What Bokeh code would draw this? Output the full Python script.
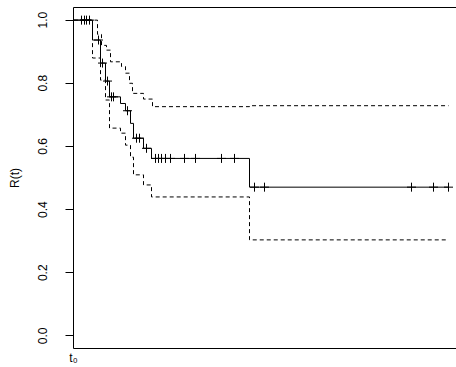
import numpy as np
from bokeh.plotting import figure
from bokeh.models import Range1d, LinearAxis, FixedTicker, PrintfTickFormatter
from bokeh.embed import file_html
from bokeh.resources import INLINE

# Kaplan-Meier estimate (step changes)
km_time = [0, 19, 27, 32, 36, 47, 52, 57, 60, 70, 78, 176, 375]
km_surv = [1.0, 0.937, 0.864, 0.807, 0.757, 0.736, 0.713, 0.673, 0.626, 0.594, 0.562, 0.471, 0.471]

# upper confidence limit
up_time = [0, 24, 28, 33, 37, 48, 52, 56, 59, 70, 79, 176, 375]
up_surv = [1.0, 0.955, 0.92, 0.905, 0.868, 0.853, 0.832, 0.80, 0.768, 0.75, 0.726, 0.729, 0.729]

# lower confidence limit
lo_time = [0, 19, 27, 32, 36, 47, 52, 57, 60, 70, 78, 176, 375]
lo_surv = [1.0, 0.88, 0.81, 0.747, 0.658, 0.642, 0.604, 0.566, 0.51, 0.478, 0.44, 0.304, 0.304]

# censoring times
cens_time = [8, 11, 13, 16, 25, 29, 34, 38, 40, 54, 63, 66, 73,
             82, 85, 88, 92, 97, 111, 122, 148, 161, 181, 191, 338, 360, 375]

y_ticks = [0.0, 0.2, 0.4, 0.6, 0.8, 1.0]

idx = np.searchsorted(np.array(km_time), np.array(cens_time), side="right") - 1
cens_surv = [km_surv[i] for i in idx]

FONT = "Liberation Sans"

p = figure(width=456, height=367, output_backend="svg", toolbar_location=None,
           x_range=Range1d(0, 383), y_range=Range1d(-0.04, 1.04),
           x_axis_location=None, y_axis_location=None,
           min_border_left=73, min_border_right=0, min_border_top=7, min_border_bottom=18)
p.outline_line_color = None
p.xgrid.visible = False
p.ygrid.visible = False
p.background_fill_color = "white"
p.border_fill_color = "white"

yax = LinearAxis(ticker=FixedTicker(ticks=y_ticks), formatter=PrintfTickFormatter(format="%.1f"),
                 axis_label="R(t)")
yax.major_label_orientation = "parallel"
yax.major_tick_out = 8
yax.major_tick_in = 0
yax.minor_tick_out = 0
yax.minor_tick_in = 0
yax.major_label_standoff = 18
yax.axis_label_standoff = 14
yax.major_label_text_font = FONT
yax.major_label_text_font_size = "12px"
yax.major_label_text_color = "black"
yax.axis_label_text_font = FONT
yax.axis_label_text_font_size = "12px"
yax.axis_label_text_font_style = "normal"
yax.axis_label_text_color = "black"
yax.axis_line_color = "black"
yax.major_tick_line_color = "black"
p.add_layout(yax, "left")

xax = LinearAxis(ticker=FixedTicker(ticks=[0]))
xax.major_label_overrides = {0: "t\u2080"}
xax.major_tick_out = 0
xax.major_tick_in = 0
xax.minor_tick_out = 0
xax.minor_tick_in = 0
xax.major_label_standoff = 2
xax.major_label_text_font = FONT
xax.major_label_text_font_size = "12px"
xax.major_label_text_color = "black"
xax.axis_line_color = "black"
p.add_layout(xax, "below")

tax = LinearAxis(ticker=FixedTicker(ticks=[]))
tax.major_tick_out = 0
tax.major_tick_in = 0
tax.minor_tick_out = 0
tax.minor_tick_in = 0
tax.major_label_text_font_size = "0px"
tax.axis_line_color = "black"
p.add_layout(tax, "above")

p.step(km_time, km_surv, mode="after", line_color="black", line_width=1)
p.step(up_time, up_surv, mode="after", line_color="black", line_width=1, line_dash="4 3")
p.step(lo_time, lo_surv, mode="after", line_color="black", line_width=1, line_dash="4 3")
p.scatter(cens_time, cens_surv, marker="cross", size=9, line_color="black", line_width=1)

open("out.html", "w").write(file_html(p, INLINE))
